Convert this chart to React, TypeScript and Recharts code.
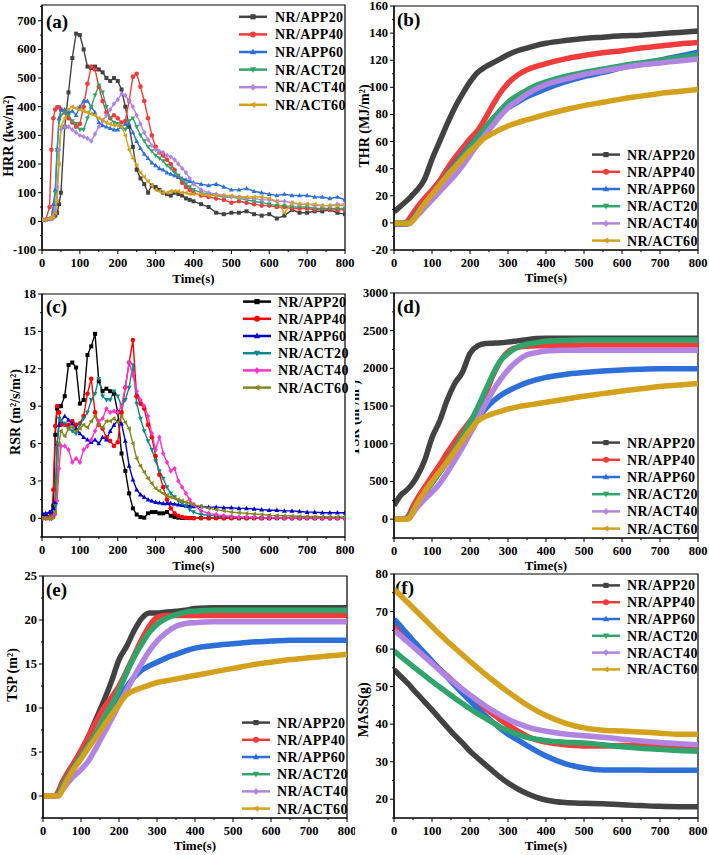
import React from 'react';
import { LineChart, Line, XAxis, YAxis, ReferenceArea, Legend } from 'recharts';

const NAMES = ['NR/APP20', 'NR/APP40', 'NR/APP60', 'NR/ACT20', 'NR/ACT40', 'NR/ACT60'];
const COLORS = ['#424242', '#f23b3b', '#2d6fd8', '#2fa56b', '#b184e2', '#d4a11c'];
const COLORS_C = ['#000000', '#ff0000', '#0000cc', '#0a8a8a', '#ff33cc', '#87871c'];
const SHAPES = ['square', 'circle', 'triangle', 'triangleDown', 'diamond', 'triangleLeft'];

const X_MAJOR = [0, 100, 200, 300, 400, 500, 600, 700, 800];

// fine time grid for HRR and RSR
const T_FINE = [0, 10, 20, 25, 30, 35, 40, 45, 50,
  60, 70, 80, 90, 100, 110, 120, 130, 140, 150, 160, 170, 180, 190, 200, 210, 220, 230, 240, 250, 260, 270, 280, 290, 300, 310, 320, 330, 340, 350, 360, 370, 380, 390, 400,
  420, 440, 460, 480, 500, 520, 540, 560, 580, 600, 620, 640, 660, 680, 700, 720, 740, 760, 780, 800];
// grid for cumulative curves
const T_SMOOTH = [0, 20, 30, 40, 50, 60, 80, 100, 120, 140, 160, 180, 200, 220, 240, 260, 280, 300, 325, 350, 375, 400, 450, 500, 550, 600, 650, 700, 750, 800];

// (a) HRR
const hrrAPP20 = [5, 5, 8, 10, 15, 20, 30, 60, 100,
  330, 450, 570, 655, 650, 600, 540, 535, 540, 530, 520, 500, 490, 500, 490, 460, 400, 330, 260, 180, 150, 130, 100, 125, 120, 110, 100, 95, 90, 100, 95, 90, 80, 75, 70,
  60, 50, 30, 25, 30, 30, 35, 25, 20, 25, 10, 20, 40, 30, 30, 35, 35, 40, 30, 25];
const hrrAPP40 = [5, 5, 50, 250, 360, 390, 398, 398, 390,
  380, 360, 345, 330, 340, 400, 480, 540, 530, 470, 420, 380, 360, 370, 360, 345, 350, 420, 505, 515, 470, 420, 360, 300, 260, 240, 230, 215, 200, 180, 155, 135, 120, 110, 100,
  90, 85, 80, 75, 65, 70, 65, 60, 55, 55, 50, 50, 45, 45, 45, 40, 45, 40, 40, 40];
const hrrAPP60 = [5, 5, 8, 15, 60, 110, 250, 360, 390,
  390, 380, 385, 370, 400, 420, 420, 400, 380, 345, 335, 330, 325, 320, 320, 330, 340, 340, 310, 280, 255, 235, 220, 205, 195, 185, 180, 170, 165, 160, 155, 150, 145, 140, 135,
  130, 125, 130, 120, 110, 110, 115, 105, 100, 95, 90, 95, 90, 90, 90, 85, 85, 80, 85, 75];
const hrrACT20 = [5, 5, 8, 10, 30, 100, 250, 350, 370,
  380, 370, 350, 340, 320, 320, 360, 400, 440, 475, 450, 400, 360, 345, 340, 330, 320, 350, 360, 330, 300, 280, 260, 245, 230, 220, 210, 195, 185, 170, 160, 145, 130, 120, 110,
  100, 95, 90, 85, 85, 80, 75, 70, 65, 60, 55, 55, 50, 50, 50, 45, 45, 45, 45, 45];
const hrrACT40 = [5, 5, 8, 10, 20, 40, 120, 250, 320,
  330, 330, 320, 310, 300, 295, 290, 280, 305, 330, 350, 370, 390, 410, 425, 445, 440, 420, 400, 370, 340, 310, 285, 265, 250, 245, 240, 230, 225, 215, 200, 185, 170, 150, 130,
  110, 100, 95, 90, 85, 85, 80, 80, 75, 75, 70, 70, 65, 60, 60, 55, 55, 55, 60, 60];
const hrrACT60 = [5, 5, 10, 15, 15, 30, 70, 200, 330,
  360, 390, 400, 395, 390, 385, 380, 375, 370, 360, 355, 345, 340, 335, 335, 330, 300, 250, 220, 195, 170, 155, 140, 125, 110, 105, 100, 100, 105, 105, 105, 100, 100, 95, 95,
  95, 90, 90, 90, 90, 85, 85, 85, 85, 80, 70, 30, 65, 60, 60, 60, 55, 55, 55, 55];

// (c) RSR
const rsrAPP20 = [0.1, 0.1, 0.1, 0.2, 1, 6.7, 8.8, 9, 9,
  9.8, 12.3, 12.5, 12.1, 9.2, 9.5, 13.1, 13.8, 14.8, 11, 10.2, 10.4, 10.2, 10, 8.5, 5.2, 3.8, 2, 0.8, 0.3, 0.1, 0.05, 0.4, 0.5, 0.5, 0.4, 0.4, 0.5, 0.2, 0.1, 0.05, 0.03, 0.02, 0.02, 0.02,
  0.02, 0.01, 0.02, 0.01, 0.02, 0.01, 0.01, 0.02, 0.01, 0.01, 0.02, 0.01, 0.01, 0.01, 0.02, 0.01, 0.01, 0.01, 0.01, 0.01];
const rsrAPP40 = [0, 0, 0, 0.2, 2.3, 7.4, 9, 8.5, 7.5,
  7.5, 7.5, 7.8, 7.5, 7.6, 8.2, 10, 11.2, 8.5, 7.5, 7.2, 6.5, 6.2, 5.8, 6.1, 8.5, 10.5, 12.5, 14.3, 9.8, 9.2, 8.8, 7.5, 6.5, 5, 3.5, 2.5, 1.5, 0.8, 0.4, 0.2, 0.1, 0.05, 0.02, 0.01,
  0, 0, 0, 0, 0, 0, 0, 0, 0, 0, 0, 0, 0, 0, 0, 0, 0, 0, 0, 0];
const rsrAPP60 = [0.4, 0.4, 0.5, 0.6, 0.8, 1.3, 6, 7.5, 7.8,
  8.2, 7.9, 7.6, 7.2, 6.8, 6.5, 6.3, 6.1, 6.3, 6, 6.5, 6.3, 7, 7.5, 7.8, 7.6, 6.2, 4.2, 3.1, 2.3, 1.9, 1.7, 1.5, 1.4, 1.3, 1.25, 1.2, 1.2, 1.2, 1.15, 1.1, 1.05, 1, 1, 0.95,
  0.95, 0.9, 0.9, 0.85, 0.85, 0.8, 0.8, 0.75, 0.7, 0.65, 0.65, 0.6, 0.6, 0.55, 0.5, 0.5, 0.45, 0.45, 0.45, 0.45];
const rsrACT20 = [0, 0, 0, 0, 0.2, 1, 6, 8, 7.8,
  7.6, 7.2, 7, 6.8, 7.5, 8, 8.5, 9.5, 10, 11.2, 9.8, 9.5, 9.5, 10.2, 9.8, 9, 9.5, 10.5, 12.3, 9.2, 8, 7, 6.2, 5.5, 4.6, 3.8, 3.2, 2.5, 2, 1.7, 1.4, 1.2, 1, 0.7, 0.5,
  0.3, 0.25, 0.2, 0.15, 0.1, 0.05, 0.05, 0.05, 0.04, 0.03, 0.03, 0.02, 0.02, 0.02, 0.02, 0.01, 0.01, 0.01, 0.01, 0.01];
const rsrACT40 = [0, 0, 0, 0, 0.1, 0.3, 1.4, 4, 5.8,
  5.8, 5.5, 4.5, 4.8, 4.5, 5.5, 5.8, 6.3, 7, 7.8, 8, 8.8, 8.5, 8.6, 8.5, 9, 10.5, 12.5, 11.5, 10.2, 9.5, 9, 8.2, 6.8, 5.5, 6.5, 5.2, 4.5, 3.8, 4, 3, 2.5, 2, 1.5, 1.1,
  0.6, 0.4, 0.3, 0.2, 0.15, 0.1, 0.1, 0.08, 0.05, 0.05, 0.04, 0.03, 0.03, 0.02, 0.02, 0.02, 0.01, 0.01, 0.01, 0.01];
const rsrACT60 = [0, 0, 0, 0, 0.1, 0.5, 3, 6, 7,
  6.6, 7.2, 7.3, 7, 7.2, 7.5, 7.3, 7.8, 8.2, 7.5, 7.3, 7.8, 7.8, 8, 7.7, 8.2, 7.7, 7.2, 6, 4.8, 4.2, 3.7, 3.2, 2.8, 2.4, 2.2, 2, 1.85, 1.7, 1.6, 1.5, 1.4, 1.3, 1.2, 1.1,
  0.95, 0.8, 0.7, 0.6, 0.5, 0.45, 0.4, 0.35, 0.3, 0.25, 0.22, 0.2, 0.18, 0.16, 0.15, 0.14, 0.12, 0.11, 0.1, 0.1];

// (b) THR
const thrAPP20 = [8, 13, 15.5, 18, 21, 24, 32, 47, 60, 73, 85, 95, 104, 111, 115, 118, 121, 124, 127, 129, 131, 132.5, 134.5, 136, 137, 138, 138.5, 139.5, 140.5, 141.5];
const thrAPP40 = [0, 0, 0, 3, 7, 11, 18, 24, 31, 40, 48, 55, 62, 68, 77, 87, 96, 103, 109, 113, 115.5, 117.5, 121, 123.5, 125.5, 127, 129, 130.5, 132, 133];
const thrAPP60 = [-1, -1, -1, 0, 3, 7, 14, 21, 28, 36, 43, 50, 57, 63, 69, 75, 80, 85, 89, 93, 96, 99, 104, 108, 111, 114.5, 117.5, 120, 123, 126];
const thrACT20 = [0, 0, 0, 0, 3, 6, 13, 20, 27, 35, 42, 49, 56, 63, 70, 77, 83, 89, 94, 98, 101.5, 104, 108, 111, 113.5, 116, 118, 120, 122, 124];
const thrACT40 = [-0.5, -0.5, -0.5, -0.5, 2, 5, 11, 17, 23, 29, 35, 42, 50, 58, 65, 72, 79, 85, 90, 95, 99, 102, 106, 109.5, 112, 114.5, 116.5, 118, 119.5, 121];
const thrACT60 = [0, -0.5, -0.5, -0.5, 2, 6, 14, 21, 28, 35, 41, 47, 53, 58, 63, 66, 69, 71.5, 74, 76, 78, 80, 83.5, 86.5, 89, 91.5, 93.5, 95.5, 97, 98.5];

// (d) TSR
const tsrAPP20 = [180, 330, 370, 420, 480, 560, 770, 1080, 1300, 1580, 1800, 1950, 2200, 2300, 2330, 2335, 2340, 2350, 2365, 2380, 2395, 2400, 2400, 2400, 2400, 2400, 2400, 2400, 2400, 2400];
const tsrAPP40 = [0, 0, 10, 60, 170, 260, 420, 570, 720, 880, 1030, 1170, 1300, 1450, 1650, 1900, 2100, 2220, 2280, 2295, 2300, 2300, 2305, 2310, 2310, 2310, 2310, 2310, 2310, 2310];
const tsrAPP60 = [0, 0, 0, 30, 120, 200, 350, 480, 620, 760, 900, 1050, 1200, 1340, 1460, 1560, 1640, 1700, 1760, 1810, 1850, 1880, 1920, 1945, 1965, 1980, 1990, 1995, 1995, 1995];
const tsrACT20 = [0, 0, 0, 30, 100, 180, 340, 480, 620, 770, 930, 1100, 1280, 1480, 1700, 1920, 2100, 2200, 2280, 2320, 2340, 2360, 2370, 2375, 2375, 2375, 2375, 2375, 2375, 2375];
const tsrACT40 = [0, 0, 0, 10, 80, 150, 260, 360, 470, 620, 780, 950, 1130, 1320, 1520, 1700, 1850, 1980, 2100, 2180, 2210, 2230, 2240, 2240, 2240, 2240, 2240, 2240, 2240, 2240];
const tsrACT60 = [0, 0, 0, 10, 100, 200, 360, 500, 630, 760, 900, 1040, 1180, 1300, 1360, 1400, 1430, 1460, 1490, 1510, 1530, 1550, 1590, 1630, 1665, 1700, 1730, 1760, 1780, 1800];

// (e) TSP
const tspAPP20 = [0, 0, 0, 0.3, 1.2, 2, 3.5, 5, 6.8, 8.8, 10.8, 13, 15.5, 17, 18.8, 20.2, 20.8, 20.8, 20.9, 21, 21.1, 21.3, 21.4, 21.4, 21.4, 21.4, 21.4, 21.4, 21.4, 21.4];
const tspAPP40 = [0, 0, 0, 0.5, 1.5, 2.3, 3.7, 5.2, 6.8, 8.5, 10, 11.2, 12.5, 14.2, 16, 17.8, 19.3, 20.3, 20.5, 20.5, 20.5, 20.5, 20.5, 20.5, 20.5, 20.5, 20.5, 20.5, 20.5, 20.5];
const tspAPP60 = [0, 0, 0, 0.2, 1, 1.8, 3.2, 4.5, 5.8, 7, 8.4, 9.8, 11.2, 12.4, 13.5, 14.3, 14.8, 15.2, 15.7, 16.1, 16.5, 16.8, 17.1, 17.3, 17.5, 17.6, 17.7, 17.7, 17.7, 17.7];
const tspACT20 = [0, 0, 0, 0.2, 1, 1.8, 3.2, 4.5, 5.8, 7.2, 8.8, 10.3, 12, 14, 15.8, 17.3, 18.6, 19.5, 20.2, 20.6, 20.9, 21, 21.1, 21.1, 21.1, 21.1, 21.1, 21.1, 21.1, 21.1];
const tspACT40 = [0, 0, 0, 0, 0.6, 1.2, 2.2, 3, 4, 5.5, 7.1, 8.7, 10.4, 12, 13.6, 15.1, 16.5, 17.6, 18.6, 19.3, 19.6, 19.7, 19.8, 19.8, 19.8, 19.8, 19.8, 19.8, 19.8, 19.8];
const tspACT60 = [0, 0, 0, 0, 0.6, 1.5, 3, 4.2, 5.5, 6.7, 8, 9.2, 10.4, 11.5, 12, 12.3, 12.6, 12.9, 13.1, 13.3, 13.5, 13.7, 14.1, 14.5, 14.9, 15.2, 15.5, 15.7, 15.9, 16.1];

// (f) MASS
const massAPP20 = [54.5, 52.5, 51.5, 50.5, 49.3, 48.2, 46, 43.8, 41.5, 39.2, 37, 35, 32.8, 31, 29.2, 27.5, 25.8, 24.3, 22.8, 21.5, 20.5, 19.8, 19.1, 18.9, 18.8, 18.5, 18.3, 18.1, 18, 18];
const massAPP40 = [66.5, 64.5, 63.5, 62.5, 61.5, 60.5, 58.5, 56.5, 54.7, 52.8, 51, 49.2, 47.5, 45.8, 44.2, 42.7, 41.2, 39.8, 38.2, 36.8, 35.8, 35.2, 34.5, 34.2, 34.2, 34.3, 34.3, 34.2, 34, 33.8];
const massAPP60 = [68, 65.8, 64.6, 63.5, 62.3, 61.2, 59, 56.8, 54.6, 52.5, 50.3, 48.2, 46.2, 44.2, 42.3, 40.5, 38.8, 37.3, 35.8, 34.3, 32.8, 31.5, 29.5, 28.3, 27.8, 27.8, 27.8, 27.7, 27.7, 27.7];
const massACT20 = [59.5, 57.8, 57, 56.2, 55.4, 54.6, 53, 51.4, 49.9, 48.4, 46.9, 45.5, 44.1, 42.8, 41.6, 40.4, 39.2, 38.3, 37.3, 36.5, 36, 35.6, 35.2, 35, 34.5, 34, 33.6, 33.3, 33, 32.8];
const massACT40 = [65, 63.3, 62.4, 61.6, 60.7, 59.8, 58, 56.2, 54.4, 52.6, 50.9, 49.3, 47.8, 46.3, 44.9, 43.6, 42.4, 41.3, 40.2, 39.3, 38.6, 38.1, 37.4, 36.9, 36.5, 36, 35.5, 35.1, 34.8, 34.5];
const massACT60 = [76, 74, 73, 72, 71, 70, 68, 66, 64, 62.1, 60.3, 58.5, 56.7, 55, 53.3, 51.7, 50.1, 48.6, 46.8, 45.1, 43.6, 42.3, 40.3, 39, 38.4, 38.2, 37.9, 37.6, 37.3, 37.3];

const Y_HRR = [-100, 0, 100, 200, 300, 400, 500, 600, 700];
const Y_THR = [-20, 0, 20, 40, 60, 80, 100, 120, 140, 160];
const Y_RSR = [0, 3, 6, 9, 12, 15, 18];
const Y_TSR = [0, 500, 1000, 1500, 2000, 2500, 3000];
const Y_TSP = [0, 5, 10, 15, 20, 25];
const Y_MASS = [20, 30, 40, 50, 60, 70, 80];

const FONT = "'Liberation Serif','Times New Roman',Times,serif";
const TXT: any = { fontFamily: FONT, fontWeight: 700, fill: '#000' };

function buildRows(times: number[], series: number[][]) {
  return times.map((t, i) => {
    const r: any = { t };
    series.forEach((s, k) => { r['s' + k] = s[i]; });
    return r;
  });
}

function withMinors(majors: number[], domain: [number, number]) {
  const step = majors[1] - majors[0];
  const out: number[] = [];
  for (let k = -1; k <= majors.length * 2 + 1; k++) {
    const v = Math.round((majors[0] + (k * step) / 2) * 1000) / 1000;
    if (v >= domain[0] - 1e-9 && v <= domain[1] + 1e-9) out.push(v);
  }
  return out;
}

function Marker({ shape, cx, cy, s, color }: any) {
  switch (shape) {
    case 'square':
      return <rect x={cx - s} y={cy - s} width={2 * s} height={2 * s} fill={color} />;
    case 'circle':
      return <circle cx={cx} cy={cy} r={s * 1.15} fill={color} />;
    case 'triangle':
      return <polygon points={`${cx},${cy - s * 1.3} ${cx + s * 1.2},${cy + s * 0.9} ${cx - s * 1.2},${cy + s * 0.9}`} fill={color} />;
    case 'triangleDown':
      return <polygon points={`${cx},${cy + s * 1.3} ${cx + s * 1.2},${cy - s * 0.9} ${cx - s * 1.2},${cy - s * 0.9}`} fill={color} />;
    case 'diamond':
      return <polygon points={`${cx},${cy - s * 1.35} ${cx + s * 1.1},${cy} ${cx},${cy + s * 1.35} ${cx - s * 1.1},${cy}`} fill={color} />;
    default:
      return <polygon points={`${cx - s * 1.3},${cy} ${cx + s * 0.9},${cy - s * 1.2} ${cx + s * 0.9},${cy + s * 1.2}`} fill={color} />;
  }
}

const dotFn = (shape: string, color: string) => (p: any) => {
  const { cx, cy, index } = p;
  if (cx == null || cy == null || isNaN(cx) || isNaN(cy)) return <g key={`e${index}`} />;
  return <Marker key={`m${index}`} shape={shape} cx={cx} cy={cy} s={2} color={color} />;
};

function Panel({ cfg }: any) {
  const { left, top, w, h, plot, yDomain, yMajor, data, smooth, colors, lg, tag, yLabel, yl, timeY } = cfg;
  const xAll = withMinors(X_MAJOR, [0, 800]);
  const yAll = withMinors(yMajor, yDomain);
  const xTick = (p: any) => {
    const { x, y, payload } = p;
    const v = payload.value;
    const major = X_MAJOR.includes(v);
    return (
      <g>
        <line x1={x} x2={x} y1={y} y2={y + (major ? 4 : 2)} stroke="#000" strokeWidth={1} />
        {major && <text x={x} y={y + 16.5} textAnchor="middle" {...TXT} fontSize={12.5}>{v}</text>}
      </g>
    );
  };
  const yTick = (p: any) => {
    const { x, y, payload } = p;
    const v = payload.value;
    const major = yMajor.includes(v);
    return (
      <g>
        <line x1={x} x2={x - (major ? 4 : 2)} y1={y} y2={y} stroke="#000" strokeWidth={1} />
        {major && <text x={x - 6} y={y + 4} textAnchor="end" {...TXT} fontSize={12.5}>{v}</text>}
      </g>
    );
  };
  const legendContent = () => (
    <svg width={130} height={lg.dy * 6 + 4} style={{ display: 'block' }}>
      {NAMES.map((n, i) => {
        const yy = lg.dy * i + lg.dy / 2 + 2;
        return (
          <g key={n}>
            <line x1={0} x2={28} y1={yy} y2={yy} stroke={colors[i]} strokeWidth={2.5} />
            <Marker shape={SHAPES[i]} cx={14} cy={yy} s={2.6} color={colors[i]} />
            <text x={lg.tx} y={yy + 5} {...TXT} fontSize={14} letterSpacing={0.4}>{n}</text>
          </g>
        );
      })}
    </svg>
  );
  const plotCx = (plot.l + plot.r) / 2;
  return (
    <div style={{ position: 'absolute', left, top, width: w, height: h }}>
      <LineChart width={w} height={h} data={data} margin={{ top: plot.t, right: w - plot.r, left: 0, bottom: 0 }}>
        <XAxis dataKey="t" type="number" domain={[0, 800]} ticks={xAll} interval={0} tickSize={0} tickMargin={0}
          height={h - plot.b} axisLine={{ stroke: '#000', strokeWidth: 1.2 }} tickLine={false} tick={xTick} allowDataOverflow />
        <YAxis type="number" domain={yDomain} ticks={yAll} interval={0} tickSize={0} tickMargin={0}
          width={plot.l} axisLine={{ stroke: '#000', strokeWidth: 1.2 }} tickLine={false} tick={yTick} allowDataOverflow />
        <ReferenceArea x1={0} x2={800} y1={yDomain[0]} y2={yDomain[1]} fill="none" stroke="#000" strokeWidth={1.2} ifOverflow="visible" />
        {NAMES.map((n, i) => (
          <Line key={n} dataKey={'s' + i} name={n} stroke={colors[i]}
            type={smooth ? 'monotone' : 'linear'} strokeWidth={smooth ? 5.5 : 1.4}
            dot={smooth ? false : dotFn(SHAPES[i], colors[i])} activeDot={false} isAnimationActive={false} />
        ))}
        <Legend layout="vertical" align="center" verticalAlign="middle" content={legendContent}
          wrapperStyle={{ left: lg.x, top: lg.y - lg.dy / 2 - 2, width: 130, height: lg.dy * 6 + 4, margin: 0 }} />
        <text x={tag.x} y={tag.y} {...TXT} fontSize={19}>{tag.text}</text>
        <text x={yl.x} y={yl.y} transform={`rotate(-90 ${yl.x} ${yl.y})`} textAnchor="middle" dominantBaseline="central" {...TXT} fontSize={14}>{yLabel}</text>
        <text x={plotCx} y={timeY} textAnchor="middle" {...TXT} fontSize={13}>Time(s)</text>
      </LineChart>
    </div>
  );
}

const PANELS = [
  {
    left: 0, top: 0, w: 355, h: 290, plot: { l: 42, r: 345, t: 5, b: 250 }, yDomain: [-100, 755], yMajor: Y_HRR,
    data: buildRows(T_FINE, [hrrAPP20, hrrAPP40, hrrAPP60, hrrACT20, hrrACT40, hrrACT60]), smooth: false, colors: COLORS,
    lg: { x: 239, y: 17, dy: 17.6, tx: 36 }, tag: { text: '(a)', x: 46, y: 28 }, yLabel: 'HRR (kw/m²)', yl: { x: 8, y: 136 }, timeY: 283,
  },
  {
    left: 355, top: 0, w: 354, h: 290, plot: { l: 39, r: 343, t: 6, b: 250 }, yDomain: [-20, 160], yMajor: Y_THR,
    data: buildRows(T_SMOOTH, [thrAPP20, thrAPP40, thrAPP60, thrACT20, thrACT40, thrACT60]), smooth: true, colors: COLORS,
    lg: { x: 237, y: 155, dy: 17.2, tx: 35 }, tag: { text: '(b)', x: 42, y: 26 }, yLabel: 'THR (MJ/m²)', yl: { x: 9, y: 126 }, timeY: 282,
  },
  {
    left: 0, top: 285, w: 355, h: 290, plot: { l: 42, r: 345, t: 9, b: 252 }, yDomain: [-1.5, 18], yMajor: Y_RSR,
    data: buildRows(T_FINE, [rsrAPP20, rsrAPP40, rsrAPP60, rsrACT20, rsrACT40, rsrACT60]), smooth: false, colors: COLORS_C,
    lg: { x: 243, y: 17, dy: 17.2, tx: 35 }, tag: { text: '(c)', x: 46, y: 28 }, yLabel: 'RSR (m²/s/m²)', yl: { x: 15, y: 127 }, timeY: 284.5,
  },
  {
    left: 355, top: 285, w: 354, h: 290, plot: { l: 39, r: 343, t: 8, b: 253 }, yDomain: [-250, 3000], yMajor: Y_TSR,
    data: buildRows(T_SMOOTH, [tsrAPP20, tsrAPP40, tsrAPP60, tsrACT20, tsrACT40, tsrACT60]), smooth: true, colors: COLORS,
    lg: { x: 237, y: 158, dy: 17.2, tx: 35 }, tag: { text: '(d)', x: 42, y: 28 }, yLabel: 'TSR (m²/m²)', yl: { x: -1, y: 133 }, timeY: 285,
  },
  {
    left: 0, top: 570, w: 355, h: 285, plot: { l: 43, r: 347, t: 6, b: 248 }, yDomain: [-2.5, 25], yMajor: Y_TSP,
    data: buildRows(T_SMOOTH, [tspAPP20, tspAPP40, tspAPP60, tspACT20, tspACT40, tspACT60]), smooth: true, colors: COLORS,
    lg: { x: 242, y: 153, dy: 17.2, tx: 35 }, tag: { text: '(e)', x: 46, y: 26 }, yLabel: 'TSP (m²)', yl: { x: 12, y: 105 }, timeY: 280,
  },
  {
    left: 355, top: 570, w: 354, h: 285, plot: { l: 39, r: 343, t: 4, b: 248 }, yDomain: [15, 80], yMajor: Y_MASS,
    data: buildRows(T_SMOOTH, [massAPP20, massAPP40, massAPP60, massACT20, massACT40, massACT60]), smooth: true, colors: COLORS,
    lg: { x: 237, y: 15, dy: 16.8, tx: 35 }, tag: { text: '(f)', x: 40, y: 24 }, yLabel: 'MASS(g)', yl: { x: 8, y: 140 }, timeY: 280,
  },
];

export default function App() {
  return (
    <div style={{ position: 'absolute', left: 0, top: 0, width: 709, height: 855, background: '#fff', overflow: 'hidden' }}>
      {PANELS.map((cfg, i) => <Panel key={i} cfg={cfg} />)}
    </div>
  );
}
